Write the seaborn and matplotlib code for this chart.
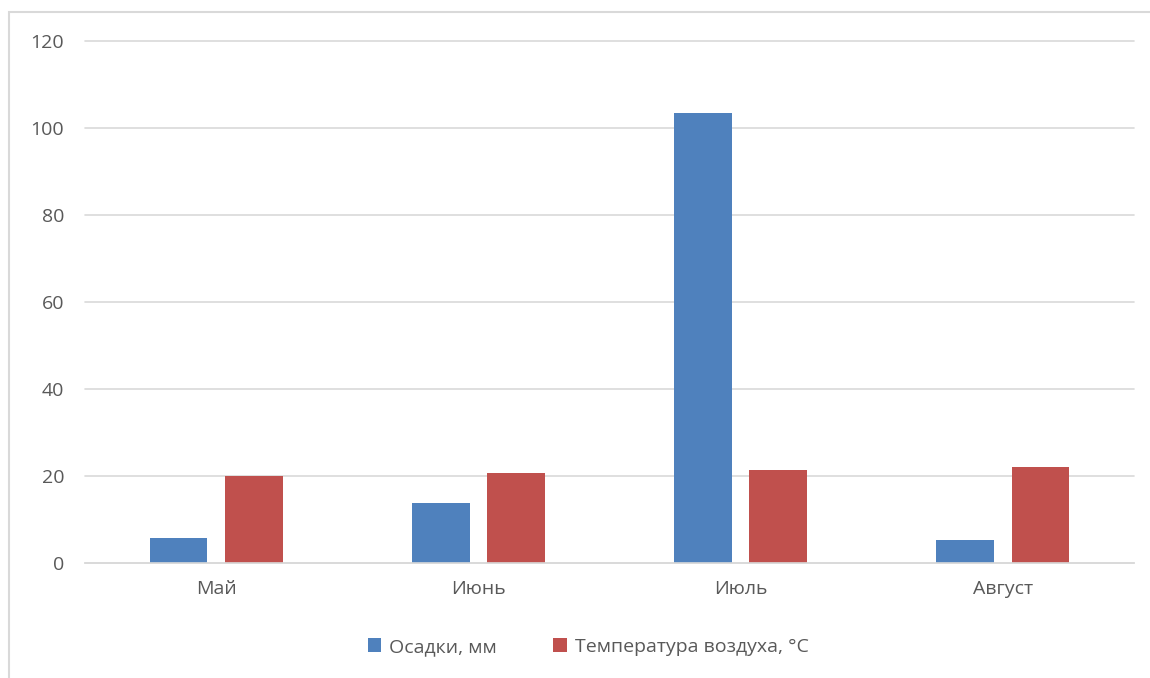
import numpy as np
import pandas as pd
import matplotlib
matplotlib.use("Agg")
import matplotlib.pyplot as plt
import seaborn as sns
from matplotlib.patches import Rectangle

months = ["Май", "Июнь", "Июль", "Август"]
precip = [5.7, 13.7, 103.4, 5.4]
temp = [20.1, 20.8, 21.3, 22.0]
series_names = ["Осадки, мм", "Температура воздуха, °C"]
colors = ["#4F81BD", "#C0504D"]
yticks = [0, 20, 40, 60, 80, 100, 120]

df = pd.DataFrame({
    "month": months * 2,
    "value": precip + temp,
    "series": [series_names[0]] * 4 + [series_names[1]] * 4,
})

sns.set_theme(style="white")
plt.rcParams["font.family"] = ["Open Sans", "DejaVu Sans"]

fig = plt.figure(figsize=(11.5, 6.78), dpi=100)
ax = fig.add_axes([85 / 1150, 1 - 563 / 678, (1134 - 85) / 1150, (563 - 41) / 678])

sns.barplot(data=df, x="month", y="value", hue="series", order=months,
            hue_order=series_names, palette=colors, width=0.573, gap=0.23,
            saturation=1, ax=ax, edgecolor="none", legend=True)

ax.set_xlim(-0.5, 3.5)
ax.set_ylim(0, 120)
ax.set_yticks(yticks)
ax.yaxis.grid(True, color="#D9D9D9", linewidth=1.2)
for gl in ax.yaxis.get_gridlines():
    gl.set_clip_on(False)
ax.set_axisbelow(True)
for s in ["left", "right", "top"]:
    ax.spines[s].set_visible(False)
ax.spines["bottom"].set_color("#D9D9D9")
ax.spines["bottom"].set_linewidth(1.2)
ax.set_xlabel("")
ax.set_ylabel("")
ax.tick_params(axis="both", length=0, labelsize=14, labelcolor="#595959")
ax.tick_params(axis="y", pad=15)
ax.tick_params(axis="x", pad=12)

handles, labels = ax.get_legend_handles_labels()
ax.get_legend().remove()
leg = fig.legend(handles, labels, loc="center", bbox_to_anchor=(588 / 1150, 1 - 647 / 678),
                 ncol=2, frameon=False, fontsize=14, handlelength=0.7, handleheight=0.7,
                 handletextpad=0.4, columnspacing=2.9)
for t in leg.get_texts():
    t.set_color("#595959")

fig.patches.append(Rectangle((9 / 1150, -0.05), 1.1, 1 - 12 / 678 + 0.05,
                             transform=fig.transFigure, fill=False,
                             edgecolor="#D9D9D9", linewidth=1.5))

fig.savefig("out.png", dpi=100, facecolor="white")
